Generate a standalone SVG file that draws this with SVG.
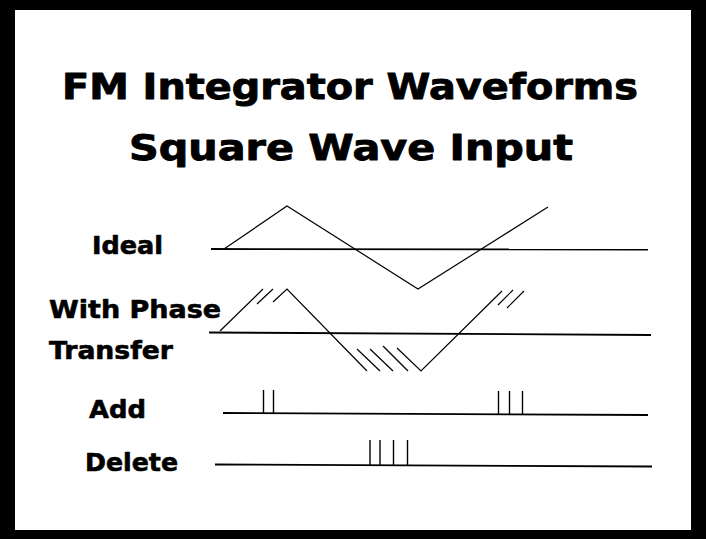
<svg xmlns="http://www.w3.org/2000/svg" width="706" height="539" viewBox="0 0 706 539">
  <style>
    .t { font-family: "DejaVu Sans", "Liberation Sans", Arial, sans-serif; font-weight: bold; fill: #000; stroke: #000; stroke-linejoin: round; }
    .title { font-size: 35px; stroke-width: 0.9; }
    .lab { font-size: 25px; stroke-width: 0.6; }
    .base { stroke: #000; stroke-width: 1.8; fill: none; }
    .wave { stroke: #000; stroke-width: 1.2; fill: none; stroke-linejoin: miter; }
    .tick { stroke: #000; stroke-width: 1.4; }
  </style>
  <rect x="0" y="0" width="706" height="539" fill="#000"/>
  <rect x="15" y="10" width="676" height="520" fill="#fff"/>

  <g id="title">
    <text class="t title" x="62" y="99" textLength="576" lengthAdjust="spacingAndGlyphs">FM Integrator Waveforms</text>
    <text class="t title" x="129" y="160" textLength="444" lengthAdjust="spacingAndGlyphs">Square Wave Input</text>
  </g>

  <g id="ideal">
    <text class="t lab" x="92" y="254" textLength="71" lengthAdjust="spacingAndGlyphs">Ideal</text>
    <line class="base" x1="211" y1="249" x2="648" y2="249.5"/>
    <polyline class="wave" points="224,249 287,206 418,289 548,207"/>
  </g>

  <g id="phase">
    <text class="t lab" x="49" y="318" textLength="172" lengthAdjust="spacingAndGlyphs">With Phase</text>
    <text class="t lab" x="49" y="359" textLength="124" lengthAdjust="spacingAndGlyphs">Transfer</text>
    <line class="base" x1="209" y1="332.5" x2="651" y2="335"/>
    <line class="wave" x1="220" y1="331" x2="263" y2="289"/>
    <line class="wave" x1="257" y1="304" x2="273" y2="289"/>
    <polyline class="wave" points="273,302 287,289 367,371"/>
    <line class="wave" x1="357" y1="349" x2="380" y2="371"/>
    <line class="wave" x1="370" y1="349" x2="393" y2="371"/>
    <line class="wave" x1="383" y1="346" x2="408" y2="371"/>
    <polyline class="wave" points="397,348 421,371 502,291"/>
    <line class="wave" x1="498" y1="305" x2="513" y2="290"/>
    <line class="wave" x1="507" y1="308" x2="524" y2="291"/>
  </g>

  <g id="add">
    <text class="t lab" x="89" y="417.5" textLength="57" lengthAdjust="spacingAndGlyphs">Add</text>
    <line class="base" x1="223" y1="413" x2="648" y2="415"/>
    <line class="tick" x1="263.5" y1="390" x2="263.5" y2="413"/>
    <line class="tick" x1="273.5" y1="390" x2="273.5" y2="413"/>
    <line class="tick" x1="498.5" y1="391" x2="498.5" y2="414"/>
    <line class="tick" x1="509.5" y1="391" x2="509.5" y2="414"/>
    <line class="tick" x1="522.5" y1="391" x2="522.5" y2="414"/>
  </g>

  <g id="delete">
    <text class="t lab" x="85" y="470.5" textLength="93" lengthAdjust="spacingAndGlyphs">Delete</text>
    <line class="base" x1="215" y1="464.5" x2="652" y2="466.5"/>
    <line class="tick" x1="370" y1="440" x2="370" y2="465"/>
    <line class="tick" x1="380" y1="440" x2="380" y2="465"/>
    <line class="tick" x1="393.5" y1="440" x2="393.5" y2="465"/>
    <line class="tick" x1="407.5" y1="440" x2="407.5" y2="465"/>
  </g>
</svg>
